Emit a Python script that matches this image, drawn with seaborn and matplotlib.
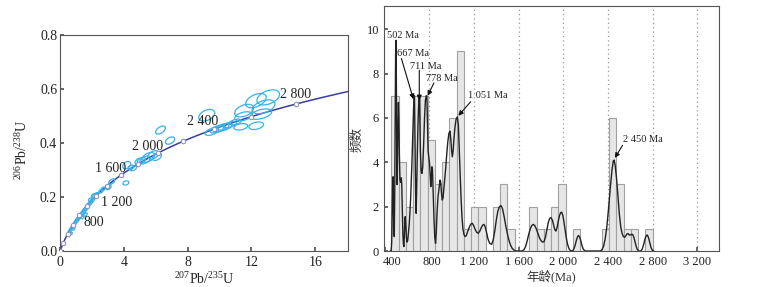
import numpy as np
import pandas as pd
import matplotlib
matplotlib.use('Agg')
import matplotlib.pyplot as plt
import matplotlib.transforms as mtransforms
from matplotlib.patches import Ellipse
import seaborn as sns

# ---- concordia (left) ----
marker_ages = [0, 200, 400, 600, 800, 1000, 1200, 1400, 1600, 1800, 2000, 2200, 2400, 2600, 2800]
age_labels = ['800', '1 200', '1 600', '2 000', '2 400', '2 800']
age_label_pos = [(1.5, 0.104), (2.6, 0.178), (2.2, 0.307), (4.5, 0.386), (7.95, 0.478), (13.8, 0.578)]

# error ellipses: centre x (207/235), centre y (206/238), long axis, short axis (x units), tilt (deg)
ell_x = [13.05, 12.28, 12.76, 11.54, 12.60, 11.50, 9.20, 9.51, 9.83, 10.14, 10.35, 10.66, 10.00,
         11.33, 12.30, 11.00, 6.30, 6.90, 5.54, 5.85, 5.33, 6.07, 5.10, 4.18, 4.96, 4.60, 4.45,
         4.13, 3.24, 3.03, 2.57, 2.70, 2.30, 2.20, 2.10, 2.05, 1.95, 1.90, 1.85, 1.75, 1.65, 1.55,
         1.45, 1.35, 1.25, 1.15, 1.05, 0.95, 0.85, 0.75, 0.65, 0.55, 1.60, 1.40, 0.85, 0.70]
ell_y = [0.569, 0.557, 0.534, 0.520, 0.507, 0.499, 0.503, 0.442, 0.451, 0.457, 0.460, 0.468, 0.452,
         0.460, 0.464, 0.478, 0.448, 0.409, 0.347, 0.356, 0.337, 0.349, 0.335, 0.318, 0.331, 0.306, 0.310,
         0.252, 0.257, 0.236, 0.222, 0.230, 0.210, 0.204, 0.205, 0.190, 0.182, 0.190, 0.175, 0.168, 0.158, 0.150,
         0.142, 0.135, 0.128, 0.120, 0.112, 0.104, 0.095, 0.086, 0.077, 0.068, 0.135, 0.125, 0.082, 0.065]
ell_a = [1.50, 1.38, 1.50, 1.25, 1.38, 1.13, 1.07, 0.88, 0.88, 0.94, 0.88, 0.82, 0.75,
         0.88, 0.94, 0.75, 0.69, 0.63, 0.88, 0.75, 0.75, 0.63, 0.56, 0.56, 0.56, 0.44, 0.38,
         0.38, 0.44, 0.38, 0.31, 0.31, 0.25, 0.38, 0.31, 0.31, 0.31, 0.25, 0.31, 0.25, 0.31, 0.25,
         0.31, 0.25, 0.31, 0.25, 0.25, 0.25, 0.25, 0.22, 0.22, 0.19, 0.25, 0.22, 0.19, 0.16]
ell_b = [0.82, 0.75, 0.75, 0.69, 0.56, 0.50, 0.63, 0.38, 0.38, 0.38, 0.38, 0.31, 0.31,
         0.38, 0.44, 0.31, 0.38, 0.38, 0.50, 0.44, 0.38, 0.38, 0.31, 0.38, 0.38, 0.25, 0.25,
         0.25, 0.25, 0.25, 0.19, 0.19, 0.19, 0.25, 0.19, 0.19, 0.19, 0.19, 0.19, 0.19, 0.19, 0.19,
         0.19, 0.19, 0.19, 0.19, 0.19, 0.16, 0.16, 0.16, 0.16, 0.13, 0.16, 0.16, 0.13, 0.13]
ell_t = [22, 25, 20, 22, 15, 15, 25, 20, 20, 20, 18, 18, 20,
         10, 12, 15, 35, 30, 30, 30, 30, 30, 30, 40, 35, 30, 30,
         20, 40, 35, 40, 40, 45, 45, 45, 45, 45, 45, 45, 45, 45, 45,
         45, 45, 45, 45, 45, 45, 45, 45, 45, 45, 40, 40, 40, 40]

# ---- age spectrum (right) ----
bin_start, bin_width = 460, 65
counts = [7, 4, 2, 7, 7, 5, 3, 4, 6, 9, 1, 2, 2, 0, 2, 3, 1, 0, 0, 2, 1, 1, 2, 3,
          0, 1, 0, 0, 0, 1, 6, 3, 1, 1, 0, 1]
kde_age = [450, 458, 463, 467, 471, 475, 479, 483, 486, 490, 494, 498, 502, 505, 508, 511, 514, 518,
           523, 527, 532, 537, 543, 549, 553, 558, 563, 568, 572, 576, 580, 584, 589, 595, 601, 607,
           620, 632, 643, 652, 659, 664, 667, 671, 675, 679, 682, 686, 692, 699, 705, 711, 715, 720,
           727, 734, 741, 749, 757, 765, 772, 778, 783, 789, 795, 801, 807, 813, 818, 823, 828, 835,
           842, 849, 856, 862, 869, 877, 884, 890, 896, 902, 909, 916, 923, 930, 938, 946, 955, 965,
           975, 985, 993, 1000, 1006, 1013, 1021, 1030, 1040, 1051, 1060, 1068, 1076, 1084, 1093,
           1101, 1110, 1120, 1130, 1145, 1160, 1173, 1185, 1197, 1210, 1225, 1239, 1252, 1265, 1278,
           1289, 1300, 1312, 1325, 1340, 1358, 1372, 1386, 1400, 1414, 1428, 1442, 1456, 1470, 1484,
           1498, 1512, 1527, 1542, 1557, 1575, 1630, 1648, 1662, 1676, 1690, 1704, 1718, 1731, 1744,
           1758, 1772, 1786, 1800, 1814, 1827, 1840, 1853, 1866, 1879, 1890, 1902, 1914, 1925, 1934,
           1944, 1955, 1966, 1976, 1986, 1996, 2006, 2016, 2026, 2036, 2046, 2056, 2068, 2085, 2097,
           2108, 2118, 2128, 2137, 2147, 2157, 2167, 2177, 2188, 2200, 2330, 2345, 2360, 2375, 2390,
           2405, 2420, 2435, 2447, 2455, 2465, 2478, 2490, 2502, 2514, 2526, 2538, 2550, 2562, 2572,
           2582, 2592, 2602, 2612, 2622, 2632, 2642, 2652, 2662, 2675, 2695, 2708, 2720, 2732, 2744,
           2752, 2762, 2774, 2786, 2798, 2810]
kde_val = [0, 0, 0.4, 1.5, 2.9, 3.35, 2.2, 0.8, 0.65, 2.5, 6.0, 8.8, 9.5, 7.5, 4.5, 3.0, 3.6, 5.5,
           6.7, 6.0, 4.3, 3.2, 3.1, 3.3, 3.0, 1.8, 0.8, 0.3, 0.2, 0.6, 1.3, 1.55, 1.2, 0.6, 0.4, 0.5,
           1.2, 2.3, 3.8, 5.3, 6.4, 6.9, 7.0, 5.2, 3.0, 1.8, 1.7, 2.6, 4.3, 5.8, 6.7, 7.0, 6.0, 4.5,
           3.6, 3.5, 3.8, 4.8, 6.0, 6.8, 7.0, 7.0, 5.8, 4.5, 4.25, 4.0, 3.5, 2.9, 3.3, 3.8, 3.7, 2.6,
           1.4, 0.6, 0.35, 0.8, 1.7, 2.4, 2.7, 3.0, 3.2, 3.1, 2.6, 2.3, 2.4, 2.8, 3.3, 3.7, 4.3, 4.9,
           5.3, 5.4, 5.0, 4.5, 4.25, 4.5, 5.1, 5.6, 5.95, 6.05, 5.7, 4.6, 3.5, 2.4, 1.5,
           1.0, 0.75, 0.65, 0.68, 0.9, 1.1, 1.22, 1.25, 1.15, 0.98, 0.84, 0.8, 0.9, 1.05, 1.17,
           1.2, 1.1, 0.85, 0.55, 0.35, 0.3, 0.5, 0.9, 1.4, 1.8, 2.0, 2.05, 1.9, 1.55, 1.15,
           0.8, 0.5, 0.27, 0.12, 0.05, 0.0, 0.0, 0.06, 0.2, 0.45, 0.75, 1.0, 1.15, 1.2, 1.15,
           1.0, 0.8, 0.6, 0.47, 0.4, 0.42, 0.62, 0.95, 1.3, 1.48, 1.5, 1.4, 1.15, 0.95, 0.9,
           1.05, 1.35, 1.6, 1.73, 1.75, 1.6, 1.3, 0.95, 0.62, 0.35, 0.17, 0.06, 0.0, 0.02, 0.12,
           0.3, 0.5, 0.65, 0.7, 0.62, 0.45, 0.25, 0.1, 0.03, 0.0, 0.0, 0.05, 0.2, 0.55, 1.1,
           1.9, 2.8, 3.6, 4.05, 4.1, 3.85, 3.2, 2.4, 1.65, 1.1, 0.8, 0.65, 0.62, 0.7, 0.78,
           0.78, 0.72, 0.72, 0.76, 0.74, 0.62, 0.42, 0.22, 0.08, 0.0, 0.0, 0.1, 0.3, 0.55, 0.7,
           0.72, 0.62, 0.38, 0.15, 0.03, 0.0]
peak_labels = ['667 Ma', '711 Ma', '778 Ma', '1 051 Ma', '2 450 Ma']
peak_text_pos = [(510, 8.9), (628, 8.33), (770, 7.8), (1143, 7.0), (2531, 5.05)]
peak_arrow_tail = [(550, 8.68), (710, 8.15), (841, 7.58), (1170, 6.73), (2531, 4.77)]
peak_arrow_tip = [(657, 6.85), (710, 6.8), (785, 7.0), (1060, 6.1), (2462, 4.2)]

sns.set_theme(style='ticks')
plt.rcParams['font.family'] = ['Liberation Serif', 'Noto Sans CJK SC']
plt.rcParams['mathtext.fontset'] = 'custom'
plt.rcParams['mathtext.rm'] = 'Liberation Serif'
plt.rcParams['axes.edgecolor'] = '#555555'
plt.rcParams['axes.linewidth'] = 0.8

fig = plt.figure(figsize=(7.77, 2.87), dpi=100)
ax1 = fig.add_axes([0.0772, 0.1254, 0.3707, 0.7526])
ax2 = fig.add_axes([0.4942, 0.1254, 0.4311, 0.8537])

# --- left: concordia diagram ---
lam235, lam238 = 9.8485e-10, 1.55125e-10
t = np.linspace(0, 3000, 400) * 1e6
sns.lineplot(x=np.exp(lam235 * t) - 1, y=np.exp(lam238 * t) - 1, ax=ax1,
             color='#3b3ba0', lw=1.1, sort=False, estimator=None)
tm = np.array(marker_ages) * 1e6
ax1.plot(np.exp(lam235 * tm) - 1, np.exp(lam238 * tm) - 1, 'o', ms=3.2,
         mfc='white', mec='#9090c0', mew=0.8, zorder=4)

ax1.set_xlim(0, 18.05)
ax1.set_ylim(0, 0.8)
fig.canvas.draw()
bb = ax1.get_window_extent()
k = (bb.height / 0.8) / (bb.width / 18.05)
tr = mtransforms.Affine2D().scale(1, 1 / k) + ax1.transData
for x, y, a, b, ang in zip(ell_x, ell_y, ell_a, ell_b, ell_t):
    ax1.add_patch(Ellipse((x, y * k), a, b, angle=ang, transform=tr,
                          fill=False, ec='#35b2e8', lw=0.9, zorder=3))

for lab, (x, y) in zip(age_labels, age_label_pos):
    ax1.text(x, y, lab, fontsize=10, va='center', ha='left', color='#222222')

ax1.set_xticks([0, 4, 8, 12, 16])
ax1.set_yticks([0, 0.2, 0.4, 0.6, 0.8])
ax1.set_yticklabels(['0.0', '0.2', '0.4', '0.6', '0.8'])
ax1.tick_params(direction='in', length=3, labelsize=10, colors='#555555', labelcolor='#222222')
ax1.tick_params(axis='y', pad=2)
ax1.set_xlabel(r'$^{207}$Pb/$^{235}$U', fontsize=10, labelpad=1, color='#222222')
ax1.set_ylabel(r'$^{206}$Pb/$^{238}$U', fontsize=10, color='#222222')
ax1.yaxis.set_label_coords(-0.104, 0.47)

# --- right: histogram and probability curve ---
edges = [bin_start + bin_width * i for i in range(len(counts) + 1)]
hist_df = pd.DataFrame({'age': [e + bin_width / 2 for e in edges[:-1]], 'n': counts})
sns.histplot(data=hist_df, x='age', weights='n', bins=edges, ax=ax2, color='#e6e6e6',
             edgecolor='#a0a0a0', linewidth=0.8, alpha=1)
for v in [800, 1200, 1600, 2000, 2400, 2800, 3200]:
    ax2.axvline(v, color='#9a9a9a', ls=(0, (1, 2.5)), lw=0.9, zorder=0.5)
sns.lineplot(x=kde_age, y=kde_val, ax=ax2, color='#222222', lw=1.0, estimator=None)

ax2.text(423, 9.5, '502 Ma', fontsize=7.5, ha='left', va='bottom', color='#222222')
for lab, (x, y), tail, tip in zip(peak_labels, peak_text_pos, peak_arrow_tail, peak_arrow_tip):
    ax2.text(x, y, lab, fontsize=7.5, ha='left', va='center', color='#222222')
    ax2.annotate('', xy=tip, xytext=tail,
                 arrowprops=dict(arrowstyle='-|>', color='#111111', lw=0.8,
                                 mutation_scale=7, shrinkA=0, shrinkB=0))

ax2.set_xlim(394, 3394)
ax2.set_ylim(0, 11.05)
ax2.set_xticks([400, 800, 1200, 1600, 2000, 2400, 2800, 3200])
ax2.set_xticklabels(['400', '800', '1 200', '1 600', '2 000', '2 400', '2 800', '3 200'])
ax2.set_yticks([0, 2, 4, 6, 8, 10])
ax2.tick_params(direction='in', length=3, labelsize=9, colors='#555555', labelcolor='#222222')
ax2.set_xlabel('年龄(Ma)', fontsize=9, labelpad=1, color='#333333')
ax2.set_ylabel('频数', fontsize=9, color='#333333')
ax2.yaxis.set_label_coords(-0.06, 0.455)

# first two age labels sit a little to the right in the original
for lbl, dx in zip(ax2.get_xticklabels()[:2], [7, 2.5]):
    lbl.set_transform(lbl.get_transform() + mtransforms.ScaledTranslation(dx / 100, 0, fig.dpi_scale_trans))

fig.savefig('out.png', dpi=100)
